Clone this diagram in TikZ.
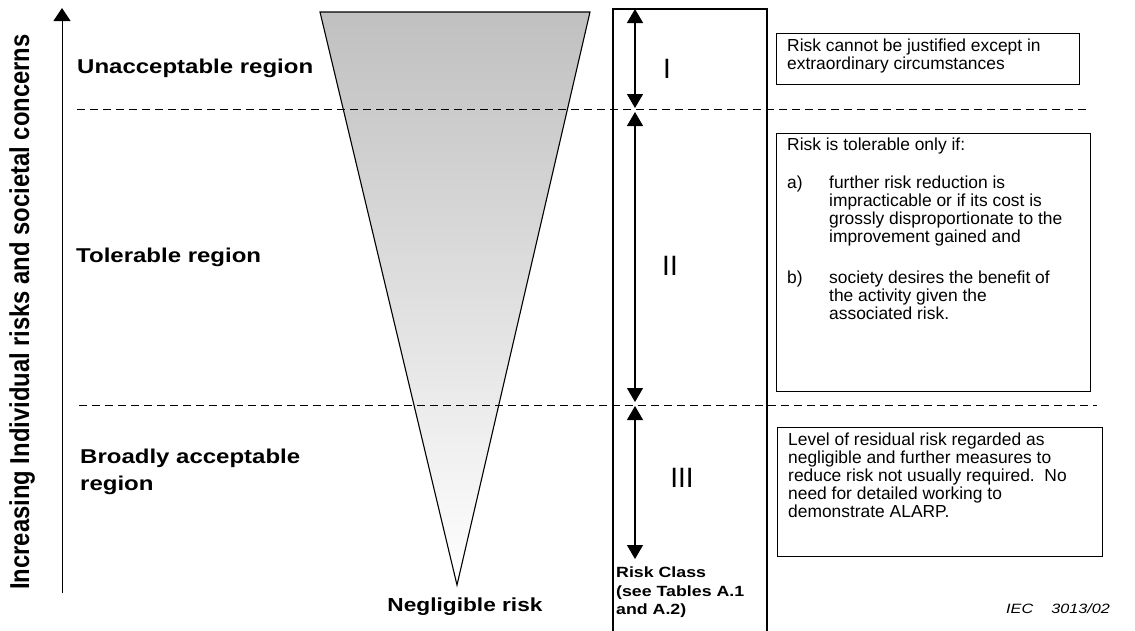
\documentclass[tikz,border=0pt]{standalone}
\usepackage{fontspec}
\setmainfont{Liberation Sans}
\newfontfamily\widefont[FakeStretch=1.2]{Liberation Sans}
\usetikzlibrary{arrows.meta}
\definecolor{coneGray}{RGB}{192,192,192}

\tikzset{
  region/.style={font=\widefont\bfseries\fontsize{20}{27}\selectfont, inner sep=0pt, anchor=base west},
  boxtext/.style={font=\fontsize{17.4}{18}\selectfont, inner sep=0pt, anchor=base west},
  classtext/.style={font=\widefont\bfseries\fontsize{14.8}{18.5}\selectfont, inner sep=0pt, anchor=base west},
  numeral/.style={font=\fontsize{28}{28}\selectfont, inner sep=0pt, anchor=base},
  frame/.style={draw, line width=1.1pt, inner sep=0pt, anchor=north west},
  span/.style={{Triangle[length=14pt,width=16pt]}-{Triangle[length=14pt,width=16pt]}, line width=1.1pt},
  guide/.style={dash pattern=on 8pt off 5pt, line width=1pt},
}

\begin{document}
\begin{tikzpicture}[x=1pt, y=-1pt]
\useasboundingbox (0,0) rectangle (1135,630);

% vertical axis and its caption
\coordinate (axisfoot) at (62,593);
\coordinate (axistip) at (62,8);
\draw[line width=1pt, -{Triangle[length=13pt,width=17pt]}] (axisfoot) -- (axistip);
\node[rotate=90, inner sep=0pt, font=\bfseries\fontsize{23.8}{24}\selectfont] (axislabel) at (22,312)
  {\scalebox{1}[1.15]{Increasing Individual risks and societal concerns}};

% shaded risk cone
\coordinate (coneL) at (320,12);
\coordinate (coneR) at (590,12);
\coordinate (coneTip) at (457,585);
\shade[top color=coneGray, bottom color=white] (coneL) -- (coneR) -- (coneTip) -- cycle;
\draw[line width=1.1pt, line join=miter] (coneL) -- (coneR) -- (coneTip) -- cycle;

% region boundaries
\coordinate (g1a) at (77,109);  \coordinate (g1b) at (1090,109);
\coordinate (g2a) at (79,405);  \coordinate (g2b) at (1097,405);
\draw[guide] (g1a) -- (g1b);
\draw[guide] (g2a) -- (g2b);

% region names
\node[region] (unacc) at (77,73) {Unacceptable region};
\node[region] (toler) at (76,262) {Tolerable region};
\node[region] (broad1) at (80,463) {Broadly acceptable};
\node[region] (broad2) at (80,490) {region};
\node[region, font=\widefont\bfseries\fontsize{18.9}{26}\selectfont, anchor=base] (neglig) at (465,611) {Negligible risk};

% risk class column
\coordinate (colBL) at (613,632);
\coordinate (colTL) at (613,9);
\coordinate (colTR) at (767,9);
\coordinate (colBR) at (767,632);
\draw[line width=1.1pt] (colBL) -- (colTL) -- (colTR) -- (colBR);

\coordinate (s1a) at (635,9);   \coordinate (s1b) at (635,108);
\coordinate (s2a) at (635,112); \coordinate (s2b) at (635,402);
\coordinate (s3a) at (635,406); \coordinate (s3b) at (635,559);
\draw[span] (s1a) -- (s1b);
\draw[span] (s2a) -- (s2b);
\draw[span] (s3a) -- (s3b);

\node[numeral] (cI) at (667,78) {I};
\node[numeral] (cII) at (670,275) {II};
\node[numeral] (cIII) at (682,487) {III};

\node[classtext] (rc1) at (616,577) {Risk Class};
\node[classtext] (rc2) at (616,596) {(see Tables A.1};
\node[classtext] (rc3) at (616,614) {and A.2)};

% explanation boxes
\node[frame, minimum width=303pt, minimum height=51pt] (box1) at (776,33) {};
\node[frame, minimum width=314pt, minimum height=258pt] (box2) at (776,133) {};
\node[frame, minimum width=325pt, minimum height=129pt] (box3) at (777,427) {};

\node[boxtext] (t1a) at (787,51) {Risk cannot be justified except in};
\node[boxtext] (t1b) at (787,69) {extraordinary circumstances};

\node[boxtext] (t2) at (787,150) {Risk is tolerable only if:};
\node[boxtext] (t2a) at (787,188) {a)};
\foreach \ln [count=\i from 0] in {further risk reduction is, impracticable or if its cost is,
    grossly disproportionate to the, improvement gained and}
  \node[boxtext] (t2a\i) at (829,188+18*\i) {\ln};
\node[boxtext] (t2b) at (787,283) {b)};
\foreach \ln [count=\i from 0] in {society desires the benefit of, the activity given the,
    associated risk.}
  \node[boxtext] (t2b\i) at (829,283+18*\i) {\ln};

\foreach \ln [count=\i from 0] in {Level of residual risk regarded as,
    negligible and further measures to, reduce risk not usually required.\ \ No,
    need for detailed working to, demonstrate ALARP.}
  \node[boxtext] (t3\i) at (788,445+18.2*\i) {\ln};

% figure reference
\node[inner sep=0pt, anchor=base west, font=\widefont\itshape\fontsize{13.5}{14}\selectfont] (iec1) at (1006,613) {IEC};
\node[inner sep=0pt, anchor=base east, font=\widefont\itshape\fontsize{13.5}{14}\selectfont] (iec2) at (1110,613) {3013/02};
\end{tikzpicture}
\end{document}
